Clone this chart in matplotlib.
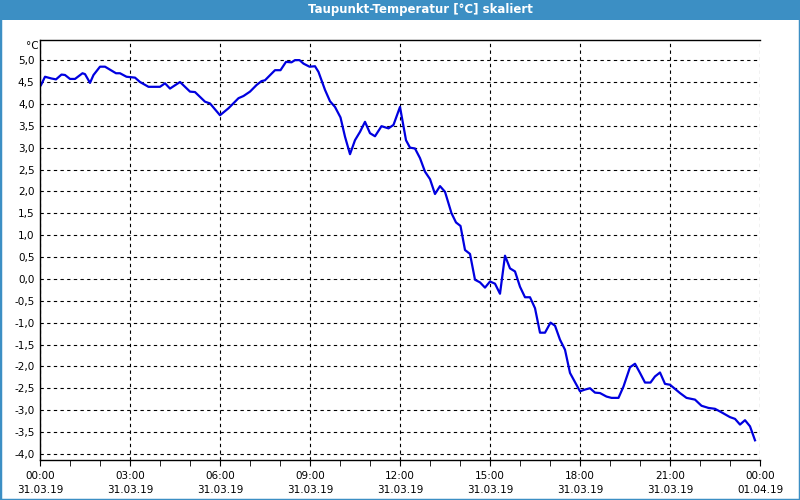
import matplotlib
matplotlib.use('Agg')
import matplotlib.pyplot as plt
import matplotlib.dates as mdates
import matplotlib.ticker as ticker
from matplotlib.patches import Rectangle
import pandas as pd

# Messwerte: Minuten ab 31.03.19 00:00 und Taupunkt in °C
minutes = [2, 10, 23, 32, 43, 50, 60, 70, 85, 90, 100, 107, 120, 130, 152, 160, 173, 190,
           200, 217, 240, 250, 260, 280, 300, 310, 330, 340, 360, 377, 397, 407, 420, 433,
           443, 450, 470, 481, 492, 503, 510, 519, 527, 539, 550, 557, 570, 580, 590, 601,
           610, 620, 630, 640, 650, 660, 670, 683, 697, 707, 720, 732, 740, 750, 760, 770,
           780, 790, 800, 810, 823, 832, 841, 850, 860, 870, 880, 890, 900, 910, 920, 930,
           940, 950, 960, 970, 980, 990, 1000, 1010, 1021, 1030, 1040, 1050, 1060, 1080,
           1090, 1100, 1110, 1120, 1133, 1143, 1157, 1167, 1180, 1190, 1200, 1210, 1221,
           1230, 1240, 1250, 1260, 1280, 1293, 1310, 1323, 1337, 1350, 1363, 1380, 1390,
           1400, 1410, 1420, 1430]
dewpoint = [4.43, 4.62, 4.58, 4.56, 4.67, 4.66, 4.57, 4.57, 4.70, 4.68, 4.48, 4.66, 4.85,
            4.85, 4.70, 4.70, 4.62, 4.60, 4.50, 4.39, 4.39, 4.47, 4.35, 4.50, 4.28, 4.27,
            4.05, 4.01, 3.74, 3.90, 4.13, 4.18, 4.28, 4.43, 4.52, 4.54, 4.77, 4.77, 4.96,
            4.95, 5.00, 5.00, 4.92, 4.85, 4.86, 4.73, 4.32, 4.06, 3.93, 3.69, 3.25, 2.85,
            3.17, 3.36, 3.59, 3.33, 3.26, 3.49, 3.44, 3.52, 3.93, 3.17, 3.00, 2.98, 2.76,
            2.45, 2.28, 1.94, 2.12, 1.99, 1.50, 1.29, 1.21, 0.66, 0.57, -0.02, -0.08, -0.20,
            -0.06, -0.11, -0.34, 0.53, 0.24, 0.17, -0.18, -0.42, -0.42, -0.67, -1.23, -1.23,
            -1.00, -1.07, -1.39, -1.62, -2.15, -2.57, -2.53, -2.50, -2.60, -2.61, -2.69,
            -2.72, -2.72, -2.46, -2.02, -1.94, -2.15, -2.37, -2.37, -2.23, -2.14, -2.40,
            -2.42, -2.61, -2.72, -2.76, -2.90, -2.95, -2.97, -3.05, -3.16, -3.20, -3.33,
            -3.23, -3.37, -3.69]

start = pd.Timestamp('2019-03-31 00:00')
end = pd.Timestamp('2019-04-01 00:00')
times = start + pd.to_timedelta(minutes, unit='m')

frame_blue = '#3c8fc4'

fig = plt.figure(figsize=(8, 5), dpi=100)
fig.patch.set_facecolor('white')

# Fensterrahmen und Titelleiste
fig.patches.append(Rectangle((0, 0), 1, 1, transform=fig.transFigure, fill=False,
                             edgecolor=frame_blue, linewidth=2.5))
fig.patches.append(Rectangle((0, 1 - 20 / 500), 1, 20 / 500, transform=fig.transFigure,
                             facecolor=frame_blue, edgecolor='none'))
fig.text(0.525, 1 - 10 / 500, 'Taupunkt-Temperatur [°C] skaliert', color='white',
         fontsize=8.5, fontweight='bold', ha='center', va='center')

ax = fig.add_axes([40 / 800, 40 / 500, 720 / 800, 420 / 500])
ax.plot(times, dewpoint, color='#0000e0', linewidth=1.6)

ax.set_xlim(start, end)
ax.set_ylim(-4.14, 5.46)

ax.xaxis.set_major_locator(mdates.HourLocator(byhour=range(0, 24, 3)))
ax.xaxis.set_minor_locator(mdates.HourLocator())
ax.xaxis.set_major_formatter(mdates.DateFormatter('%H:%M\n%d.%m.%y'))
ax.yaxis.set_major_locator(ticker.MultipleLocator(0.5))
ax.yaxis.set_major_formatter(ticker.FuncFormatter(lambda v, p: f'{v:.1f}'.replace('.', ',')))

ax.grid(True, which='major', color='black', linestyle=(0, (3, 3)), linewidth=0.8)
ax.tick_params(axis='y', length=0, pad=4, labelsize=7.5)
ax.tick_params(axis='x', which='both', length=4, direction='out', pad=4, labelsize=7.5)
for lbl in ax.get_xticklabels():
    lbl.set_linespacing(1.45)

ax.spines['right'].set_visible(False)
for s in ['left', 'top', 'bottom']:
    ax.spines[s].set_linewidth(1.0)

fig.text(32 / 800, 1 - 46 / 500, '°C', fontsize=7.5, ha='center', va='center')

fig.savefig('out.png', dpi=100)
